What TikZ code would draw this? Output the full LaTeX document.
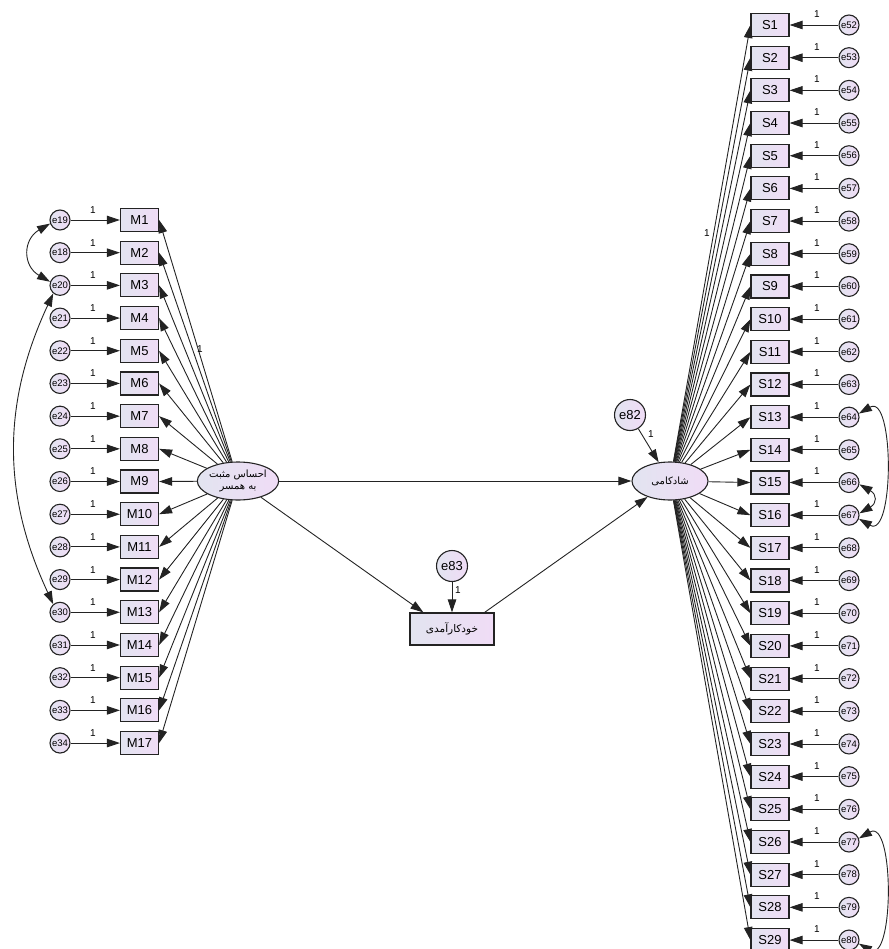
\documentclass[tikz,border=0pt]{standalone}
\usepackage{fontspec}
\setmainfont{Liberation Sans}
\newfontfamily\arabicfont[Script=Arabic]{DejaVu Sans}
\TeXXeTstate=1
\usetikzlibrary{arrows.meta,shapes.geometric}
\definecolor{edgecol}{RGB}{35,35,35}
\definecolor{fillL}{RGB}{226,228,240}
\definecolor{fillR}{RGB}{240,220,246}
\begin{document}
\begin{tikzpicture}[x=1pt,y=1pt,
  obs/.style={draw=edgecol,line width=1.2pt,left color=fillL,right color=fillR,minimum width=38pt,minimum height=23pt,inner sep=0pt,font=\fontsize{13}{14}\selectfont},
  err/.style={circle,draw=edgecol,line width=1.1pt,left color=fillL,right color=fillR,minimum size=20pt,inner sep=0pt,font=\fontsize{9.5}{10}\selectfont},
  bigerr/.style={err,minimum size=31pt,font=\fontsize{13}{14}\selectfont},
  lat/.style={ellipse,draw=edgecol,line width=1.1pt,left color=fillL,right color=fillR,minimum width=78pt,minimum height=38pt,inner sep=0pt,align=center,font=\arabicfont\fontsize{10}{12}\selectfont},
  midbox/.style={draw=edgecol,line width=1.2pt,left color=fillL,right color=fillR,minimum width=84pt,minimum height=32pt,inner sep=0pt,font=\arabicfont\fontsize{10.5}{12}\selectfont},
  arr/.style={-{Triangle[length=13pt,width=8.5pt]},line width=0.9pt,draw=edgecol},
  darr/.style={{Triangle[length=13pt,width=8.5pt]}-{Triangle[length=13pt,width=8.5pt]},line width=0.9pt,draw=edgecol},
  one/.style={font=\fontsize{10}{11}\selectfont,inner sep=0pt}
]
\useasboundingbox (0,-949) rectangle (888,0);

% latent variables and mediator
\node[lat] (L) at (238,-481) {\beginR احساس مثبت\endR\\\beginR به همسر\endR};
\node[lat,minimum width=76pt] (R) at (670,-481) {\beginR شادکامی\endR};
\node[midbox] (C) at (452,-629) {\beginR خودکارآمدی\endR};
\node[bigerr] (e83) at (452,-566) {e83};
\node[bigerr] (e82) at (630,-415) {e82};

% left indicators
\foreach \i in {1,...,17}{
  \pgfmathsetmacro\py{-(220+(\i-1)*32.69)}
  \pgfmathtruncatemacro\en{\i==1 ? 19 : (\i==2 ? 18 : 17+\i)}
  \node[obs] (M\i) at (139.5,\py) {M\i};
  \node[err] (eM\i) at (60,\py) {e\en};
  \draw[arr] (eM\i) -- (M\i);
  \node[one] (oM\i) at (93,\py+10) {1};
  \draw[arr] (L) -- (M\i.east);
}

% right indicators
\foreach \i in {1,...,29}{
  \pgfmathsetmacro\py{-(25+(\i-1)*32.68)}
  \pgfmathtruncatemacro\en{51+\i}
  \node[obs] (S\i) at (770,\py) {S\i};
  \node[err] (eS\i) at (849,\py) {e\en};
  \draw[arr] (eS\i) -- (S\i);
  \node[one] (oS\i) at (817,\py+11) {1};
  \draw[arr] (R) -- (S\i.west);
}

% structural paths
\draw[arr] (L) -- (R);
\draw[arr] (L) -- ([xshift=14pt]C.north west);
\draw[arr] ([xshift=-10pt]C.north east) -- (R);
\draw[arr] (e83) -- (C);
\draw[arr] (e82) -- (R);

% fixed-parameter labels
\node[one] (o83) at (458,-590) {1};
\node[one] (o82) at (651,-434) {1};
\node[one] (oL1) at (200,-349) {1};
\node[one] (oR1) at (707,-233) {1};

% covariances
\draw[darr] (eM1.200) to[out=210,in=150,looseness=1.4] (eM3.160);
\draw[darr] (eM3.230) to[out=245,in=115] (eM13.130);
\draw[darr] (eS13.20) to[out=30,in=-30] (eS16.-20);
\draw[darr] (eS15.-10) to[out=-30,in=30,looseness=1.8] (eS16.10);
\draw[darr] (eS26.20) to[out=30,in=-30] (eS29.-20);
\end{tikzpicture}
\end{document}
